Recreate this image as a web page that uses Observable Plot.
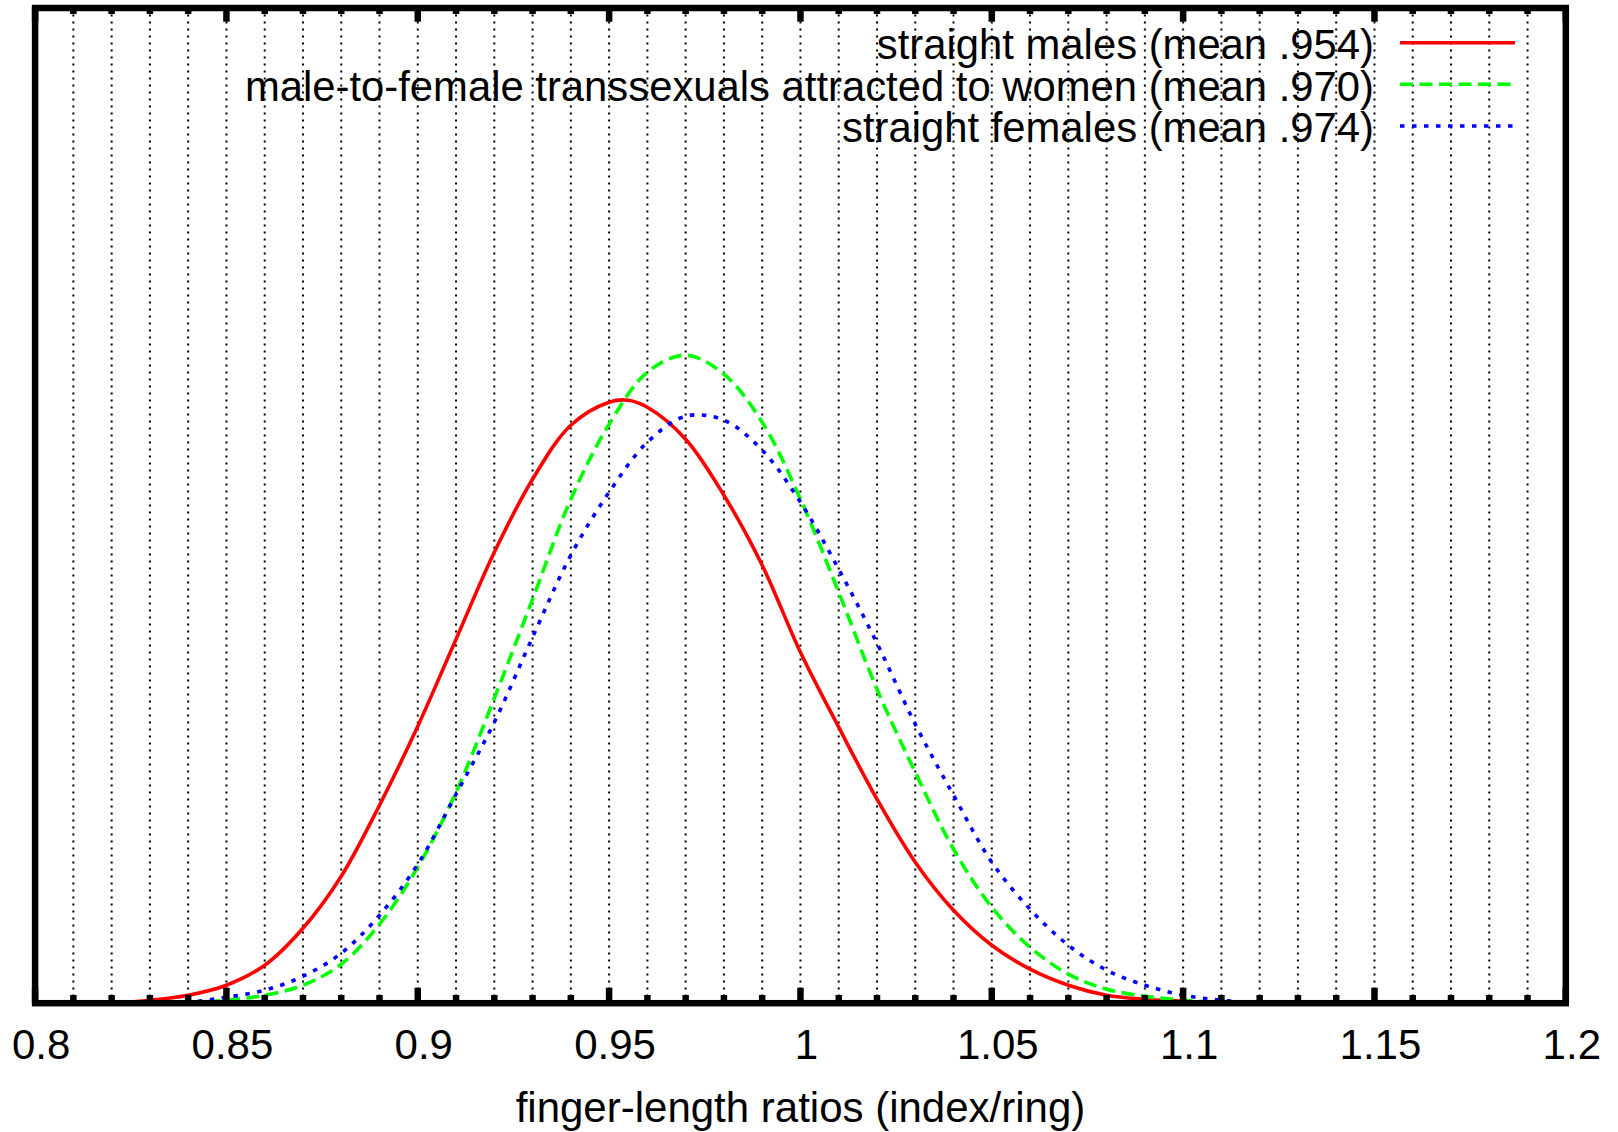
<!DOCTYPE html>
<html>
<head>
<meta charset="utf-8">
<script src="https://cdn.jsdelivr.net/npm/d3@7"></script>
<script src="https://cdn.jsdelivr.net/npm/@observablehq/plot@0.6"></script>
<style>
  html, body { margin: 0; padding: 0; background: #fff; }
  #chart { width: 1618px; height: 1132px; }
</style>
</head>
<body>
<div id="chart"></div>
<script>
// ---- Data (curve heights, arbitrary density units) ----
const redLabel = "straight males (mean .954)";
const greenLabel = "male-to-female transsexuals attracted to women (mean .970)";
const blueLabel = "straight females (mean .974)";

const redX = [0.82, 0.83, 0.84, 0.85, 0.86, 0.87, 0.88, 0.89, 0.90, 0.91, 0.92, 0.93, 0.94, 0.95, 0.955, 0.96, 0.97, 0.98, 0.99, 1.00, 1.01, 1.02, 1.03, 1.04, 1.05, 1.06, 1.07, 1.08, 1.09, 1.10, 1.11];
const redY = [0, 3, 8, 18, 38, 75, 127, 198, 277, 364, 451, 524, 578, 601, 603, 596, 564, 508, 438, 351, 276, 204, 141, 93, 58, 34, 18, 8, 4, 2, 0];

const greenX = [0.84, 0.85, 0.86, 0.87, 0.88, 0.89, 0.90, 0.91, 0.92, 0.93, 0.94, 0.95, 0.96, 0.97, 0.98, 0.99, 1.00, 1.01, 1.02, 1.03, 1.04, 1.05, 1.06, 1.07, 1.08, 1.09, 1.10, 1.11];
const greenY = [0, 3, 8, 18, 39, 79, 136, 211, 305, 404, 504, 579, 631, 648, 629, 581, 504, 411, 314, 231, 154, 96, 56, 29, 14, 7, 3, 0];

const blueX = [0.83, 0.84, 0.85, 0.86, 0.87, 0.88, 0.89, 0.90, 0.91, 0.92, 0.93, 0.94, 0.95, 0.96, 0.97, 0.98, 0.99, 1.00, 1.01, 1.02, 1.03, 1.04, 1.05, 1.06, 1.07, 1.08, 1.09, 1.10, 1.11, 1.12];
const blueY = [0, 1, 6, 13, 27, 50, 88, 139, 209, 281, 366, 448, 511, 561, 587, 583, 553, 501, 434, 360, 279, 208, 141, 94, 58, 33, 18, 8, 3, 0];

const xTickLabels = [0.8, 0.85, 0.9, 0.95, 1, 1.05, 1.1, 1.15, 1.2];
const xLabel = "finger-length ratios (index/ring)";

// ---- Layout ----
const W = 1618, H = 1132;
const mL = 34.6, mR = 52.7, mT = 7.5, mB = 129.3;
const innerH = H - mT - mB;

const minorTicks = d3.range(80, 121).filter(k => k % 5 !== 0).map(k => k / 100);
const gridTicks = d3.range(81, 120).map(k => k / 100);

const series = [
  {label: redLabel, xs: redX, ys: redY, color: "#ff0000", dash: null},
  {label: greenLabel, xs: greenX, ys: greenY, color: "#00ff00", dash: "13,6.5"},
  {label: blueLabel, xs: blueX, ys: blueY, color: "#0000ff", dash: "4.5,7.5"}
];
const rowsOf = s => s.xs.map((x, i) => ({x, y: s.ys[i]}));

const legendBaselines = [58.5, 100.2, 141.9];
const legendLineY = [42.7, 84.3, 126];
const legendTextRight = 1373.5;
const legendLineX = [1400, 1515];

const font = "'Liberation Sans', Arial, Helvetica, sans-serif";

const chart = Plot.plot({
  width: W,
  height: H,
  marginLeft: mL,
  marginRight: mR,
  marginTop: mT,
  marginBottom: mB,
  style: {fontFamily: font, fontSize: "42px", background: "#fff", color: "#000", overflow: "visible"},
  x: {domain: [0.8, 1.2]},
  y: {domain: [0, innerH], axis: null},
  marks: [
    Plot.ruleX(gridTicks, {x: d => d, stroke: "#000", strokeWidth: 2, strokeDasharray: "2,5"}),
    ...series.map(s => Plot.line(rowsOf(s), {
      x: "x", y: "y", stroke: s.color, strokeWidth: 3.6,
      strokeDasharray: s.dash, strokeLinecap: "butt", strokeLinejoin: "round",
      curve: "catmull-rom"
    })),
    // inward ticks, bottom and top
    Plot.ruleX(minorTicks, {x: d => d, stroke: "#000", strokeWidth: 6.5, insetTop: innerH - 7.7}),
    Plot.ruleX(xTickLabels, {x: d => d, stroke: "#000", strokeWidth: 6.5, insetTop: innerH - 15}),
    Plot.ruleX(minorTicks, {x: d => d, stroke: "#000", strokeWidth: 6.5, insetBottom: innerH - 6.5}),
    Plot.ruleX(xTickLabels, {x: d => d, stroke: "#000", strokeWidth: 6.5, insetBottom: innerH - 14.2}),
    Plot.frame({stroke: "#000", strokeWidth: 6.5}),
    Plot.axisX(xTickLabels, {tickSize: 0, tickPadding: 26, dx: 6, fontSize: 42, tickFormat: d => String(d), label: null}),
    Plot.text([xLabel], {text: d => d, frameAnchor: "bottom", dy: 118.3, lineAnchor: "bottom", fontSize: 42, fill: "#000"}),
    ...series.map((s, i) => Plot.text([s.label], {
      text: d => d, frameAnchor: "top-right", dx: legendTextRight - (W - mR), dy: legendBaselines[i] - mT,
      lineAnchor: "bottom", textAnchor: "end", fontSize: 41.8, fill: "#000"
    }))
  ]
});

// Legend line samples
const svg = d3.select(chart);
series.forEach((s, i) => {
  svg.append("line")
    .attr("x1", legendLineX[0]).attr("x2", legendLineX[1])
    .attr("y1", legendLineY[i]).attr("y2", legendLineY[i])
    .attr("stroke", s.color).attr("stroke-width", 3.6)
    .attr("stroke-dasharray", s.dash)
    .attr("stroke-linecap", "butt");
});

document.getElementById("chart").appendChild(chart);
</script>
</body>
</html>
